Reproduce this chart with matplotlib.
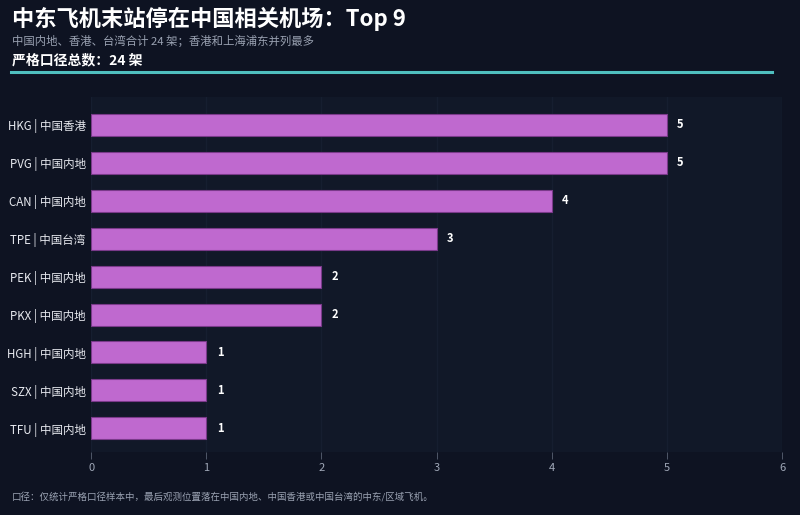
import matplotlib.pyplot as plt
import numpy as np

plt.rcParams['font.family'] = ['Noto Sans CJK SC', 'DejaVu Sans']

# 数据
airports = ["HKG | 中国香港", "PVG | 中国内地", "CAN | 中国内地", "TPE | 中国台湾",
            "PEK | 中国内地", "PKX | 中国内地", "HGH | 中国内地", "SZX | 中国内地",
            "TFU | 中国内地"]
counts = [5, 5, 4, 3, 2, 2, 1, 1, 1]
xticks = [0, 1, 2, 3, 4, 5, 6]

bg = '#0e1322'
panel = '#111828'
bar_color = '#bf69cf'

fig = plt.figure(figsize=(8, 5.15), dpi=100)
fig.patch.set_facecolor(bg)
ax = fig.add_axes([0.114, 0.122, 0.8635, 0.69])
ax.set_facecolor(panel)

y = np.arange(len(airports))
ax.barh(y, counts, height=0.58, color=bar_color, edgecolor='#7a3a8a', linewidth=0.8, zorder=3)
for yi, v in zip(y, counts):
    ax.text(v + 0.09, yi, str(v), color='white', fontsize=8, fontweight='bold',
            va='center', ha='left', zorder=4)

ax.set_xlim(0, 6)
ax.set_ylim(8.63, -0.74)
ax.set_yticks(y)
ax.set_yticklabels(airports, color='#e8eaf0', fontsize=8.3)
ax.set_xticks(xticks)
ax.set_xticklabels([str(t) for t in xticks], color='#a0a8b8', fontsize=8)
ax.tick_params(axis='y', length=0, pad=4)
ax.tick_params(axis='x', length=5, color='#5a6374', width=0.6, pad=3)
for t in ax.xaxis.get_ticklines():
    t.set_linestyle((0, (1, 1)))
ax.grid(axis='x', color='#161e30', linewidth=1.0, zorder=0)
for s in ax.spines.values():
    s.set_visible(False)

# 标题
fig.text(0.015, 0.963, "中东飞机末站停在中国相关机场：Top 9", color='white',
         fontsize=16, fontweight='bold', va='center', ha='left')
fig.text(0.015, 0.92, "中国内地、香港、台湾合计 24 架；香港和上海浦东并列最多", color='#9aa2b2',
         fontsize=8.2, va='center', ha='left')
fig.text(0.015, 0.882, "严格口径总数：24 架", color='white',
         fontsize=10, fontweight='bold', va='center', ha='left')
fig.add_artist(plt.Line2D([0.014, 0.965], [0.861, 0.861], color='#4fbfbf', linewidth=2.2,
                          transform=fig.transFigure))

# 注释
fig.text(0.015, 0.035, "口径：仅统计严格口径样本中，最后观测位置落在中国内地、中国香港或中国台湾的中东/区域飞机。",
         color='#9aa2b2', fontsize=6.8, va='center', ha='left')

fig.savefig('out.png', dpi=100, facecolor=bg)
